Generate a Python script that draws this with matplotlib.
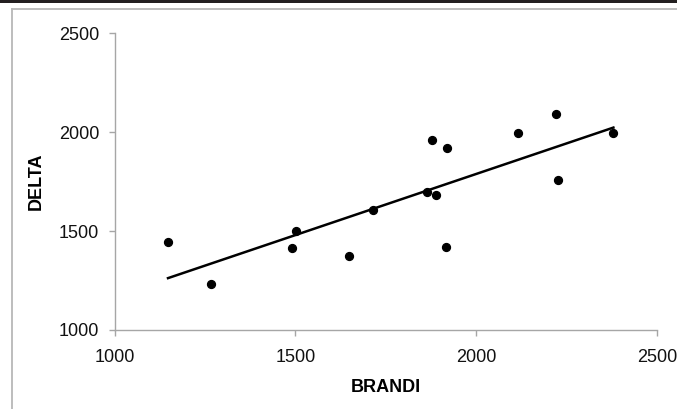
import numpy as np
import matplotlib
matplotlib.use('Agg')
import matplotlib.pyplot as plt
from matplotlib.patches import Rectangle

plt.rcParams['font.family'] = ['Liberation Sans', 'DejaVu Sans']

# values
brandi = [1148, 1268, 1491, 1503, 1649, 1715, 1865, 1878, 1888, 1916, 1919, 2116, 2221, 2228, 2380]
delta = [1445, 1234, 1414, 1502, 1373, 1607, 1699, 1960, 1681, 1420, 1918, 1994, 2092, 1757, 1994]

x_ticks = [1000, 1500, 2000, 2500]
y_ticks = [1000, 1500, 2000, 2500]

AXIS_GREY = '#a6a6a6'

fig = plt.figure(figsize=(6.77, 4.09), dpi=100)

# dark strip on top and the grey chart-area frame
fig.patches.append(Rectangle((0, 406 / 409), 1, 3 / 409, transform=fig.transFigure,
                             facecolor='#231f20', edgecolor='none'))
fig.lines.append(plt.Line2D([11.5 / 677, 1], [1 - 8.5 / 409, 1 - 8.5 / 409],
                            transform=fig.transFigure, color='#b8b8b8', lw=1.3))
fig.lines.append(plt.Line2D([11.5 / 677, 11.5 / 677], [0, 1 - 8.5 / 409],
                            transform=fig.transFigure, color='#b8b8b8', lw=1.3))

ax = fig.add_axes([114.5 / 677, 79 / 409, 542.3 / 677, 296.7 / 409])

ax.scatter(brandi, delta, s=32, color='black', zorder=3)

# linear trend line (Excel-style) over the data range
slope, intercept = np.polyfit(brandi, delta, 1)
fit_x = np.array([min(brandi), max(brandi)])
ax.plot(fit_x, slope * fit_x + intercept, color='black', lw=1.8, zorder=2)

ax.set_xlim(1000, 2500)
ax.set_ylim(1000, 2500)
ax.set_xticks(x_ticks)
ax.set_yticks(y_ticks)

for side in ['top', 'right']:
    ax.spines[side].set_visible(False)
for side in ['left', 'bottom']:
    ax.spines[side].set_color(AXIS_GREY)
    ax.spines[side].set_linewidth(1.0)

ax.tick_params(axis='both', direction='out', length=4, width=1.0, color=AXIS_GREY,
               labelsize=13, labelcolor='#111111')
ax.tick_params(axis='x', pad=10)
ax.tick_params(axis='y', pad=7)

ax.set_xlabel('BRANDI', fontsize=13, fontweight='bold', va='center', ha='center')
ax.set_ylabel('DELTA', fontsize=13, fontweight='bold', va='center', ha='center')
ax.xaxis.set_label_coords(0.5, -(388 - 330) / 296.7)
ax.yaxis.set_label_coords((36 - 114.5) / 542.3, 0.5)

fig.savefig('out.png', dpi=100)
